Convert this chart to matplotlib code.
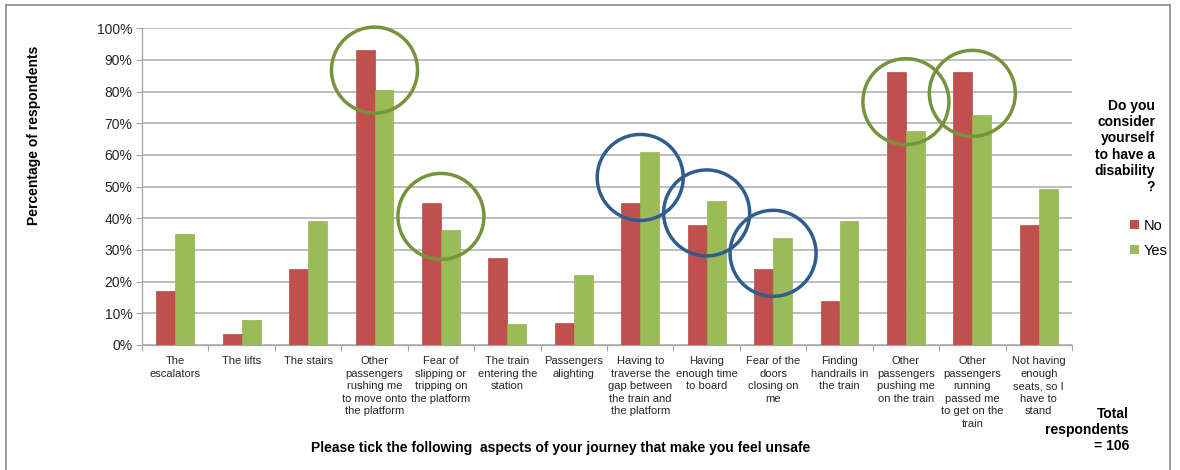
import matplotlib.pyplot as plt
import numpy as np
from matplotlib.lines import Line2D
from matplotlib.patches import Ellipse, Patch
from matplotlib.ticker import FixedLocator, PercentFormatter

plt.rcParams["font.family"] = ["Liberation Sans", "DejaVu Sans"]

# ---------------------------------------------------------------------------
# Survey data: share of respondents ticking each aspect, split by disability
# ---------------------------------------------------------------------------
categories = [
    "The\nescalators",
    "The lifts",
    "The stairs",
    "Other\npassengers\nrushing me\nto move onto\nthe platform",
    "Fear of\nslipping or\ntripping on\nthe platform",
    "The train\nentering the\nstation",
    "Passengers\nalighting",
    "Having to\ntraverse the\ngap between\nthe train and\nthe platform",
    "Having\nenough time\nto board",
    "Fear of the\ndoors\nclosing on\nme",
    "Finding\nhandrails in\nthe train",
    "Other\npassengers\npushing me\non the train",
    "Other\npassengers\nrunning\npassed me\nto get on the\ntrain",
    "Not having\nenough\nseats, so I\nhave to\nstand",
]
disability_no = [17.2, 3.4, 24.1, 93.1, 44.8, 27.6, 6.9, 44.8, 37.9, 24.1, 13.8, 86.2, 86.2, 37.9]
disability_yes = [35.1, 7.8, 39.0, 80.5, 36.4, 6.5, 22.1, 61.0, 45.5, 33.8, 39.0, 67.5, 72.7, 49.4]

# highlighted categories (index, ring colour)
highlights = [(3, "green"), (4, "green"), (7, "blue"), (8, "blue"),
              (9, "blue"), (11, "green"), (12, "green")]

RED = "#C0504D"
GREEN = "#9BBB59"
RING = {"green": "#77933C", "blue": "#2F5D8E"}
GRID = "#BEBEBE"
TEXT = "#262626"

W, H = 1180, 470
fig = plt.figure(figsize=(W / 100, H / 100), dpi=100)
ax = fig.add_axes([142 / W, 1 - 345 / H, 930 / W, 316.7 / H])

x = np.arange(len(categories))
bw = 0.286
ax.bar(x - bw / 2, disability_no, bw, color=RED, edgecolor="#B84A47", linewidth=0.5,
       label="No", zorder=3)
ax.bar(x + bw / 2, disability_yes, bw, color=GREEN, edgecolor="#94B453", linewidth=0.5,
       label="Yes", zorder=3)

ax.set_xlim(-0.5, len(categories) - 0.5)
ax.set_ylim(0, 100)
ax.yaxis.set_major_locator(FixedLocator(np.arange(0, 101, 10)))
ax.yaxis.set_major_formatter(PercentFormatter(decimals=0))
ax.grid(axis="y", color=GRID, linewidth=1.4, zorder=0)
ax.set_axisbelow(True)

ax.set_xticks(x)
ax.set_xticklabels(categories, fontsize=8, color=TEXT, linespacing=1.32, va="top")
ax.set_xticks(np.arange(-0.5, len(categories)), minor=True)
ax.tick_params(axis="x", which="major", length=0, pad=8)
ax.tick_params(axis="x", which="minor", length=4, color="#A6A6A6", width=0.8)
ax.tick_params(axis="y", length=4, color="#A6A6A6", width=0.8, labelsize=10,
               labelcolor=TEXT, pad=3)

for side in ("top", "right"):
    ax.spines[side].set_visible(False)
for side in ("left", "bottom"):
    ax.spines[side].set_color("#A6A6A6")
    ax.spines[side].set_linewidth(0.9)

# rings around the highlighted pairs, centred on the pair's mean height
rx = 43 / (930 / len(categories))
ry = 43 / 3.167
for i, c in highlights:
    cy = (disability_no[i] + disability_yes[i]) / 2
    ax.add_patch(Ellipse((i, cy), 2 * rx, 2 * ry, fill=False, edgecolor=RING[c],
                         linewidth=2.5, zorder=5, clip_on=False))

# axis titles
fig.text(34 / W, 1 - 135 / H, "Percentage of respondents", rotation=90,
         ha="center", va="center", fontsize=10, fontweight="bold", color="black")
fig.text(561 / W, 1 - 448 / H,
         "Please tick the following  aspects of your journey that make you feel unsafe",
         ha="center", va="center", fontsize=10, fontweight="bold", color="black")

# legend block on the right
fig.text(1155 / W, 1 - 99 / H, "Do you\nconsider\nyourself\nto have a\ndisability\n?",
         ha="right", va="top", fontsize=10, fontweight="bold", linespacing=1.2,
         color="black")
handles = [Patch(facecolor=RED, edgecolor="none", label="No"),
           Patch(facecolor=GREEN, edgecolor="none", label="Yes")]
fig.legend(handles=handles, loc="upper left", bbox_to_anchor=(1130 / W, 1 - 219 / H),
           frameon=False, fontsize=10.5, handlelength=0.6, handleheight=0.6,
           handletextpad=0.35, labelspacing=0.75, borderpad=0, borderaxespad=0)

fig.text(1129 / W, 1 - 430 / H, "Total\nrespondents\n= 106", ha="right",
         va="center", fontsize=10, fontweight="bold", linespacing=1.15, color="black")

# thin frame round the figure
for xs, ys in [((6, 6), (5, H + 5)), ((6, 1170), (5, 5)), ((1170, 1170), (5, H + 5))]:
    fig.add_artist(Line2D([v / W for v in xs], [1 - v / H for v in ys],
                          color="#8C8C8C", linewidth=1.2))

fig.savefig("out.png", dpi=100, facecolor="white")
